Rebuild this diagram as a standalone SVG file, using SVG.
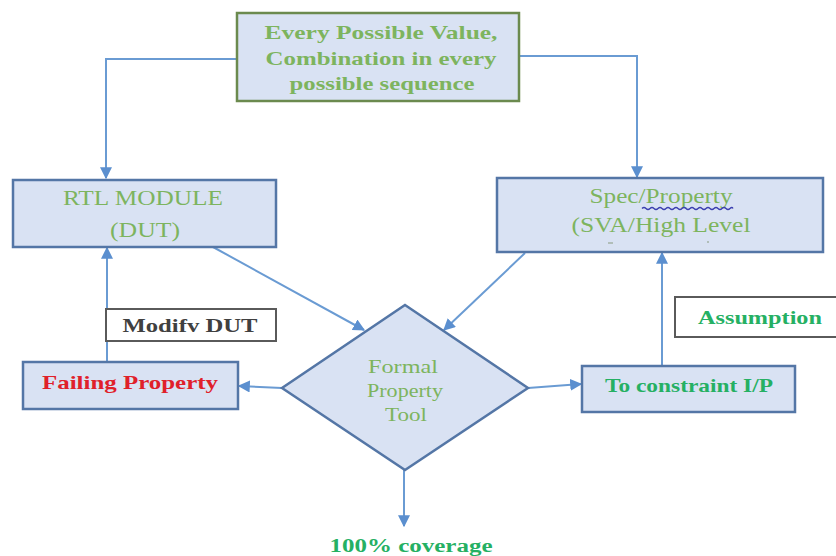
<svg xmlns="http://www.w3.org/2000/svg" width="836" height="556" viewBox="0 0 836 556">
  <defs>
    <marker id="arrow" viewBox="0 0 10 10" refX="9" refY="5" markerWidth="6" markerHeight="6" orient="auto" markerUnits="strokeWidth">
      <path d="M0,0 L10,5 L0,10 z" fill="#5b8fcf"/>
    </marker>
    <style>
      .box { fill: #d9e2f3; stroke: #5476a6; stroke-width: 2.5; }
      .src { fill: #d9e2f3; stroke: #6b8a4e; stroke-width: 2.5; }
      .tag { fill: #ffffff; stroke: #5a5a5a; stroke-width: 2; }
      .link { fill: none; stroke: #6a9bd3; stroke-width: 2; marker-end: url(#arrow); }
      text { font-family: "Liberation Serif", "Times New Roman", serif; text-anchor: middle; }
      .lg { fill: #7db45e; }
      .bg { fill: #25b063; font-weight: bold; }
      .b { font-weight: bold; }
    </style>
  </defs>

  <g id="connectors">
    <path class="link" d="M237,59 H106 V178"/>
    <path class="link" d="M519,56 H637 V177"/>
    <path class="link" d="M107,362 V248"/>
    <path class="link" d="M662,365 V253"/>
    <path class="link" d="M213,247 L364,330"/>
    <path class="link" d="M525,253 L444,330"/>
    <path class="link" d="M282,388 L239,386"/>
    <path class="link" d="M528,388 L581,384"/>
    <path class="link" d="M404,470 V526"/>
  </g>

  <g id="source">
    <rect class="src" x="237" y="13" width="282" height="88"/>
    <text class="lg b" font-size="19" x="381" y="39" textLength="233" lengthAdjust="spacingAndGlyphs">Every Possible Value,</text>
    <text class="lg b" font-size="19" x="381" y="65" textLength="231" lengthAdjust="spacingAndGlyphs">Combination in every</text>
    <text class="lg b" font-size="19" x="382" y="90" textLength="185" lengthAdjust="spacingAndGlyphs">possible sequence</text>
  </g>

  <g id="rtl">
    <rect class="box" x="13" y="180" width="263" height="67"/>
    <text class="lg" font-size="20" x="143" y="205" textLength="160" lengthAdjust="spacingAndGlyphs">RTL MODULE</text>
    <text class="lg" font-size="20" x="145" y="237" textLength="70" lengthAdjust="spacingAndGlyphs">(DUT)</text>
  </g>

  <g id="spec">
    <rect class="box" x="497" y="178" width="326" height="74"/>
    <text class="lg" font-size="20" x="661" y="203" textLength="143" lengthAdjust="spacingAndGlyphs">Spec/Property</text>
    <path d="M642,208.5 q2,-2 4,0 t4,0 t4,0 t4,0 t4,0 t4,0 t4,0 t4,0 t4,0 t4,0 t4,0 t4,0 t4,0 t4,0 t4,0 t4,0 t4,0 t4,0 t4,0 t4,0 t4,0 t4,0 t3,0" fill="none" stroke="#3b3fb0" stroke-width="1.3"/>
    <text class="lg" font-size="20" x="661" y="232" textLength="179" lengthAdjust="spacingAndGlyphs">(SVA/High Level</text>
    <path d="M608,243 h5 M707,242 h2" stroke="#8a9a80" stroke-width="1.2"/>
  </g>

  <g id="modify">
    <rect class="tag" x="106" y="309" width="170" height="32"/>
    <text class="b" font-size="18" fill="#404040" x="190" y="332" textLength="135" lengthAdjust="spacingAndGlyphs">Modifv DUT</text>
  </g>

  <g id="failing">
    <rect class="box" x="23" y="362" width="215" height="47"/>
    <text class="b" font-size="19" fill="#e0202a" x="130" y="389" textLength="176" lengthAdjust="spacingAndGlyphs">Failing Property</text>
  </g>

  <g id="tool">
    <path class="box" d="M405,305 L528,388 L405,470 L282,388 z"/>
    <text class="lg" font-size="18" x="403" y="373" textLength="70" lengthAdjust="spacingAndGlyphs">Formal</text>
    <text class="lg" font-size="18" x="405" y="397" textLength="76" lengthAdjust="spacingAndGlyphs">Property</text>
    <text class="lg" font-size="18" x="406" y="421" textLength="42" lengthAdjust="spacingAndGlyphs">Tool</text>
  </g>

  <g id="constraint">
    <rect class="box" x="582" y="366" width="213" height="46"/>
    <text class="bg" font-size="19" x="689" y="392" textLength="168" lengthAdjust="spacingAndGlyphs">To constraint I/P</text>
  </g>

  <g id="assumption">
    <rect class="tag" x="675" y="297" width="170" height="40"/>
    <text class="bg" font-size="19" x="760" y="324" textLength="124" lengthAdjust="spacingAndGlyphs">Assumption</text>
  </g>

  <g id="coverage">
    <text class="bg" font-size="18" x="411" y="552" textLength="163" lengthAdjust="spacingAndGlyphs">100% coverage</text>
  </g>
</svg>
